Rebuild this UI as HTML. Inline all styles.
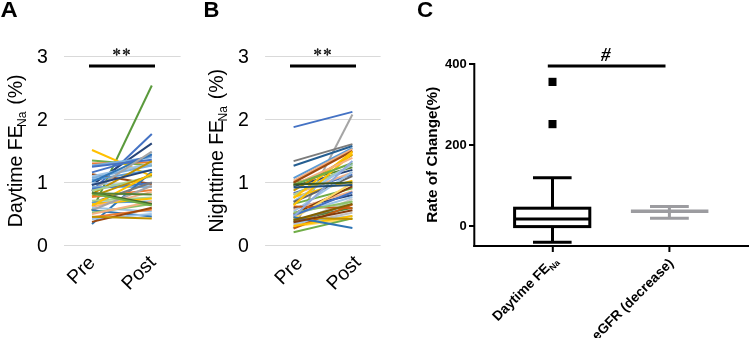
<!DOCTYPE html>
<html><head><meta charset="utf-8"><style>
html,body{margin:0;padding:0;background:#fff;}
body{width:749px;height:338px;overflow:hidden;}
svg{display:block;font-family:"Liberation Sans",sans-serif;}
text{filter:grayscale(1);}
</style></head><body>
<svg width="749" height="338" viewBox="0 0 749 338">
<rect width="749" height="338" fill="#fff"/>
<text transform="translate(0.4,16.7) scale(1.06,1)" font-size="22.5" font-weight="bold">A</text>
<text x="203.6" y="16.8" font-size="22" font-weight="bold">B</text>
<text x="416.9" y="17.0" font-size="22.4" font-weight="bold">C</text>
<line x1="64.0" y1="245.5" x2="180.6" y2="245.5" stroke="#d9d9d9" stroke-width="1"/>
<text x="47.8" y="251.8" font-size="19.5" text-anchor="end">0</text>
<line x1="64.0" y1="182.5" x2="180.6" y2="182.5" stroke="#d9d9d9" stroke-width="1"/>
<text x="47.8" y="188.8" font-size="19.5" text-anchor="end">1</text>
<line x1="64.0" y1="119.5" x2="180.6" y2="119.5" stroke="#d9d9d9" stroke-width="1"/>
<text x="47.8" y="125.8" font-size="19.5" text-anchor="end">2</text>
<line x1="64.0" y1="56.5" x2="180.6" y2="56.5" stroke="#d9d9d9" stroke-width="1"/>
<text x="47.8" y="62.8" font-size="19.5" text-anchor="end">3</text>
<g stroke-width="2" stroke-linecap="butt"><line x1="92" y1="210.8" x2="151.8" y2="85.5" stroke="#5A9A3C"/>
<line x1="92" y1="191.0" x2="151.8" y2="134.0" stroke="#4472C4"/>
<line x1="92" y1="185.0" x2="151.8" y2="143.4" stroke="#264478"/>
<line x1="92" y1="150.0" x2="151.8" y2="176.2" stroke="#FFC000"/>
<line x1="92" y1="160.4" x2="151.8" y2="165.5" stroke="#70AD47"/>
<line x1="92" y1="163.6" x2="151.8" y2="162.3" stroke="#ED7D31"/>
<line x1="92" y1="165.5" x2="151.8" y2="157.3" stroke="#7CAFDD"/>
<line x1="92" y1="166.8" x2="151.8" y2="159.8" stroke="#4472C4"/>
<line x1="92" y1="172.4" x2="151.8" y2="155.4" stroke="#4472C4"/>
<line x1="92" y1="174.3" x2="151.8" y2="184.1" stroke="#9E480E"/>
<line x1="92" y1="176.2" x2="151.8" y2="163.6" stroke="#9DC3E6"/>
<line x1="92" y1="178.1" x2="151.8" y2="165.5" stroke="#7CAFDD"/>
<line x1="92" y1="180.0" x2="151.8" y2="169.9" stroke="#5B9BD5"/>
<line x1="92" y1="181.9" x2="151.8" y2="154.2" stroke="#2E75B6"/>
<line x1="92" y1="183.1" x2="151.8" y2="186.3" stroke="#9DC3E6"/>
<line x1="92" y1="190.7" x2="151.8" y2="151.6" stroke="#A5A5A5"/>
<line x1="92" y1="193.8" x2="151.8" y2="161.1" stroke="#BF9000"/>
<line x1="92" y1="185.0" x2="151.8" y2="169.9" stroke="#264478"/>
<line x1="92" y1="186.9" x2="151.8" y2="186.9" stroke="#7CAFDD"/>
<line x1="92" y1="188.8" x2="151.8" y2="183.1" stroke="#4472C4"/>
<line x1="92" y1="190.7" x2="151.8" y2="176.2" stroke="#A9D18E"/>
<line x1="92" y1="196.4" x2="151.8" y2="174.9" stroke="#BF9000"/>
<line x1="92" y1="224.1" x2="151.8" y2="171.8" stroke="#2E75B6"/>
<line x1="92" y1="197.0" x2="151.8" y2="190.1" stroke="#ED7D31"/>
<line x1="92" y1="203.0" x2="151.8" y2="182.5" stroke="#7B7B7B"/>
<line x1="92" y1="200.8" x2="151.8" y2="197.6" stroke="#A9D18E"/>
<line x1="92" y1="202.7" x2="151.8" y2="201.4" stroke="#5B9BD5"/>
<line x1="92" y1="204.2" x2="151.8" y2="198.6" stroke="#FFC000"/>
<line x1="92" y1="205.8" x2="151.8" y2="173.7" stroke="#FFC000"/>
<line x1="92" y1="207.1" x2="151.8" y2="191.9" stroke="#F4B183"/>
<line x1="92" y1="207.7" x2="151.8" y2="211.5" stroke="#9DC3E6"/>
<line x1="92" y1="210.2" x2="151.8" y2="185.7" stroke="#A5A5A5"/>
<line x1="92" y1="210.2" x2="151.8" y2="216.5" stroke="#2E75B6"/>
<line x1="92" y1="212.7" x2="151.8" y2="203.9" stroke="#8CC168"/>
<line x1="92" y1="214.0" x2="151.8" y2="201.4" stroke="#F4B183"/>
<line x1="92" y1="217.2" x2="151.8" y2="209.6" stroke="#ED7D31"/>
<line x1="92" y1="219.0" x2="151.8" y2="214.0" stroke="#9DC3E6"/>
<line x1="92" y1="192.6" x2="151.8" y2="203.9" stroke="#43682B"/>
<line x1="92" y1="193.5" x2="151.8" y2="205.5" stroke="#70AD47"/>
<line x1="92" y1="193.2" x2="151.8" y2="194.5" stroke="#548235"/>
<line x1="92" y1="221.9" x2="151.8" y2="207.7" stroke="#9E480E"/>
<line x1="92" y1="216.8" x2="151.8" y2="218.4" stroke="#BF9000"/></g>
<rect x="89" y="64.5" width="66" height="3" fill="#000"/>
<g stroke="#1a1a1a"><line x1="116.65" y1="51.95" x2="116.65" y2="48.62" stroke-width="0.8"/><line x1="116.65" y1="49.92" x2="116.65" y2="48.99" stroke-width="1.6" stroke-linecap="round"/><line x1="116.65" y1="51.95" x2="116.65" y2="55.28" stroke-width="0.8"/><line x1="116.65" y1="53.98" x2="116.65" y2="54.91" stroke-width="1.6" stroke-linecap="round"/><line x1="116.65" y1="51.95" x2="119.78" y2="50.36" stroke-width="0.8"/><line x1="118.56" y1="50.98" x2="119.43" y2="50.53" stroke-width="1.6" stroke-linecap="round"/><line x1="116.65" y1="51.95" x2="119.78" y2="53.54" stroke-width="0.8"/><line x1="118.56" y1="52.92" x2="119.43" y2="53.37" stroke-width="1.6" stroke-linecap="round"/><line x1="116.65" y1="51.95" x2="113.52" y2="50.36" stroke-width="0.8"/><line x1="114.74" y1="50.98" x2="113.87" y2="50.53" stroke-width="1.6" stroke-linecap="round"/><line x1="116.65" y1="51.95" x2="113.52" y2="53.54" stroke-width="0.8"/><line x1="114.74" y1="52.92" x2="113.87" y2="53.37" stroke-width="1.6" stroke-linecap="round"/></g>
<g stroke="#1a1a1a"><line x1="126.35" y1="51.95" x2="126.35" y2="48.62" stroke-width="0.8"/><line x1="126.35" y1="49.92" x2="126.35" y2="48.99" stroke-width="1.6" stroke-linecap="round"/><line x1="126.35" y1="51.95" x2="126.35" y2="55.28" stroke-width="0.8"/><line x1="126.35" y1="53.98" x2="126.35" y2="54.91" stroke-width="1.6" stroke-linecap="round"/><line x1="126.35" y1="51.95" x2="129.48" y2="50.36" stroke-width="0.8"/><line x1="128.26" y1="50.98" x2="129.13" y2="50.53" stroke-width="1.6" stroke-linecap="round"/><line x1="126.35" y1="51.95" x2="129.48" y2="53.54" stroke-width="0.8"/><line x1="128.26" y1="52.92" x2="129.13" y2="53.37" stroke-width="1.6" stroke-linecap="round"/><line x1="126.35" y1="51.95" x2="123.22" y2="50.36" stroke-width="0.8"/><line x1="124.44" y1="50.98" x2="123.57" y2="50.53" stroke-width="1.6" stroke-linecap="round"/><line x1="126.35" y1="51.95" x2="123.22" y2="53.54" stroke-width="0.8"/><line x1="124.44" y1="52.92" x2="123.57" y2="53.37" stroke-width="1.6" stroke-linecap="round"/></g>
<text transform="translate(21.6,150.8) rotate(-90)" font-size="19.5" text-anchor="middle">Daytime FE<tspan font-size="12" dx="-1.6" dy="4.4">Na</tspan><tspan dx="1.4" dy="-4.4"> (%)</tspan></text>
<text transform="translate(96.3,263.8) rotate(-45)" font-size="19.5" text-anchor="end">Pre</text>
<text transform="translate(156.8,263.5) rotate(-45)" font-size="19.5" text-anchor="end">Post</text>
<line x1="265.1" y1="245.5" x2="380.6" y2="245.5" stroke="#d9d9d9" stroke-width="1"/>
<text x="248.8" y="251.8" font-size="19.5" text-anchor="end">0</text>
<line x1="265.1" y1="182.5" x2="380.6" y2="182.5" stroke="#d9d9d9" stroke-width="1"/>
<text x="248.8" y="188.8" font-size="19.5" text-anchor="end">1</text>
<line x1="265.1" y1="119.5" x2="380.6" y2="119.5" stroke="#d9d9d9" stroke-width="1"/>
<text x="248.8" y="125.8" font-size="19.5" text-anchor="end">2</text>
<line x1="265.1" y1="56.5" x2="380.6" y2="56.5" stroke="#d9d9d9" stroke-width="1"/>
<text x="248.8" y="62.8" font-size="19.5" text-anchor="end">3</text>
<g stroke-width="2" stroke-linecap="butt"><line x1="293.6" y1="228.5" x2="352.4" y2="114.5" stroke="#A5A5A5"/>
<line x1="293.6" y1="127.1" x2="352.4" y2="111.9" stroke="#4472C4"/>
<line x1="293.6" y1="161.1" x2="352.4" y2="144.1" stroke="#7B7B7B"/>
<line x1="293.6" y1="165.8" x2="352.4" y2="146.0" stroke="#255E91"/>
<line x1="293.6" y1="183.1" x2="352.4" y2="167.4" stroke="#548235"/>
<line x1="293.6" y1="186.3" x2="352.4" y2="169.9" stroke="#264478"/>
<line x1="293.6" y1="190.7" x2="352.4" y2="154.8" stroke="#BF9000"/>
<line x1="293.6" y1="193.2" x2="352.4" y2="174.6" stroke="#4472C4"/>
<line x1="293.6" y1="194.5" x2="352.4" y2="172.4" stroke="#F4B183"/>
<line x1="293.6" y1="195.1" x2="352.4" y2="164.9" stroke="#A9D18E"/>
<line x1="293.6" y1="197.0" x2="352.4" y2="180.6" stroke="#FFC000"/>
<line x1="293.6" y1="201.4" x2="352.4" y2="163.6" stroke="#9DC3E6"/>
<line x1="293.6" y1="202.0" x2="352.4" y2="176.2" stroke="#636363"/>
<line x1="293.6" y1="203.9" x2="352.4" y2="188.2" stroke="#70AD47"/>
<line x1="293.6" y1="208.3" x2="352.4" y2="195.1" stroke="#264478"/>
<line x1="293.6" y1="209.6" x2="352.4" y2="191.3" stroke="#F4B183"/>
<line x1="293.6" y1="211.5" x2="352.4" y2="171.8" stroke="#9DC3E6"/>
<line x1="293.6" y1="214.0" x2="352.4" y2="186.3" stroke="#843C0C"/>
<line x1="293.6" y1="214.9" x2="352.4" y2="197.0" stroke="#9DC3E6"/>
<line x1="293.6" y1="218.4" x2="352.4" y2="182.8" stroke="#FFD966"/>
<line x1="293.6" y1="220.3" x2="352.4" y2="207.7" stroke="#548235"/>
<line x1="293.6" y1="222.2" x2="352.4" y2="201.4" stroke="#A9D18E"/>
<line x1="293.6" y1="224.1" x2="352.4" y2="198.9" stroke="#C9C9C9"/>
<line x1="293.6" y1="221.6" x2="352.4" y2="203.9" stroke="#7B7B7B"/>
<line x1="293.6" y1="224.7" x2="352.4" y2="212.7" stroke="#BFBFBF"/>
<line x1="293.6" y1="222.8" x2="352.4" y2="215.9" stroke="#9DC3E6"/>
<line x1="293.6" y1="226.6" x2="352.4" y2="218.4" stroke="#FFD966"/>
<line x1="293.6" y1="206.4" x2="352.4" y2="208.3" stroke="#C55A11"/>
<line x1="293.6" y1="212.7" x2="352.4" y2="201.4" stroke="#8CC168"/>
<line x1="293.6" y1="178.1" x2="352.4" y2="147.8" stroke="#5B9BD5"/>
<line x1="293.6" y1="180.6" x2="352.4" y2="149.1" stroke="#F4B183"/>
<line x1="293.6" y1="182.5" x2="352.4" y2="151.0" stroke="#9E480E"/>
<line x1="293.6" y1="198.2" x2="352.4" y2="151.6" stroke="#FFC000"/>
<line x1="293.6" y1="205.2" x2="352.4" y2="153.5" stroke="#FFC000"/>
<line x1="293.6" y1="185.0" x2="352.4" y2="157.9" stroke="#F4B183"/>
<line x1="293.6" y1="185.0" x2="352.4" y2="163.0" stroke="#70AD47"/>
<line x1="293.6" y1="215.5" x2="352.4" y2="192.3" stroke="#4472C4"/>
<line x1="293.6" y1="216.8" x2="352.4" y2="161.1" stroke="#8FAADC"/>
<line x1="293.6" y1="228.5" x2="352.4" y2="204.6" stroke="#C55A11"/>
<line x1="293.6" y1="232.3" x2="352.4" y2="218.4" stroke="#70AD47"/>
<line x1="293.6" y1="226.0" x2="352.4" y2="215.9" stroke="#FFC000"/>
<line x1="293.6" y1="217.8" x2="352.4" y2="219.0" stroke="#BF9000"/>
<line x1="293.6" y1="217.2" x2="352.4" y2="227.9" stroke="#2E75B6"/>
<line x1="293.6" y1="220.3" x2="352.4" y2="203.9" stroke="#806000"/>
<line x1="293.6" y1="222.2" x2="352.4" y2="210.2" stroke="#843C0C"/>
<line x1="293.6" y1="184.4" x2="352.4" y2="182.5" stroke="#375623"/>
<line x1="293.6" y1="187.5" x2="352.4" y2="185.0" stroke="#1F4E79"/></g>
<rect x="290" y="64.5" width="66" height="3" fill="#000"/>
<g stroke="#1a1a1a"><line x1="317.65" y1="51.95" x2="317.65" y2="48.62" stroke-width="0.8"/><line x1="317.65" y1="49.92" x2="317.65" y2="48.99" stroke-width="1.6" stroke-linecap="round"/><line x1="317.65" y1="51.95" x2="317.65" y2="55.28" stroke-width="0.8"/><line x1="317.65" y1="53.98" x2="317.65" y2="54.91" stroke-width="1.6" stroke-linecap="round"/><line x1="317.65" y1="51.95" x2="320.78" y2="50.36" stroke-width="0.8"/><line x1="319.56" y1="50.98" x2="320.43" y2="50.53" stroke-width="1.6" stroke-linecap="round"/><line x1="317.65" y1="51.95" x2="320.78" y2="53.54" stroke-width="0.8"/><line x1="319.56" y1="52.92" x2="320.43" y2="53.37" stroke-width="1.6" stroke-linecap="round"/><line x1="317.65" y1="51.95" x2="314.52" y2="50.36" stroke-width="0.8"/><line x1="315.74" y1="50.98" x2="314.87" y2="50.53" stroke-width="1.6" stroke-linecap="round"/><line x1="317.65" y1="51.95" x2="314.52" y2="53.54" stroke-width="0.8"/><line x1="315.74" y1="52.92" x2="314.87" y2="53.37" stroke-width="1.6" stroke-linecap="round"/></g>
<g stroke="#1a1a1a"><line x1="327.35" y1="51.95" x2="327.35" y2="48.62" stroke-width="0.8"/><line x1="327.35" y1="49.92" x2="327.35" y2="48.99" stroke-width="1.6" stroke-linecap="round"/><line x1="327.35" y1="51.95" x2="327.35" y2="55.28" stroke-width="0.8"/><line x1="327.35" y1="53.98" x2="327.35" y2="54.91" stroke-width="1.6" stroke-linecap="round"/><line x1="327.35" y1="51.95" x2="330.48" y2="50.36" stroke-width="0.8"/><line x1="329.26" y1="50.98" x2="330.13" y2="50.53" stroke-width="1.6" stroke-linecap="round"/><line x1="327.35" y1="51.95" x2="330.48" y2="53.54" stroke-width="0.8"/><line x1="329.26" y1="52.92" x2="330.13" y2="53.37" stroke-width="1.6" stroke-linecap="round"/><line x1="327.35" y1="51.95" x2="324.22" y2="50.36" stroke-width="0.8"/><line x1="325.44" y1="50.98" x2="324.57" y2="50.53" stroke-width="1.6" stroke-linecap="round"/><line x1="327.35" y1="51.95" x2="324.22" y2="53.54" stroke-width="0.8"/><line x1="325.44" y1="52.92" x2="324.57" y2="53.37" stroke-width="1.6" stroke-linecap="round"/></g>
<text transform="translate(222.6,150.8) rotate(-90)" font-size="19.5" text-anchor="middle">Nighttime FE<tspan font-size="12" dx="-1.6" dy="4.4">Na</tspan><tspan dx="1.4" dy="-4.4"> (%)</tspan></text>
<text transform="translate(303.6,264.2) rotate(-45)" font-size="19.5" text-anchor="end">Pre</text>
<text transform="translate(361.8,263.5) rotate(-45)" font-size="19.5" text-anchor="end">Post</text>
<g fill="#000" font-weight="bold" font-size="13">
<rect x="469" y="225.0" width="5" height="2"/>
<text x="466.8" y="229.8" text-anchor="end">0</text>
<rect x="469" y="144.0" width="5" height="2"/>
<text x="466.8" y="148.8" text-anchor="end">200</text>
<rect x="469" y="63.0" width="5" height="2"/>
<text x="466.8" y="67.8" text-anchor="end">400</text>
</g>
<rect x="473.3" y="63" width="2" height="184" fill="#000"/>
<rect x="473.3" y="245" width="276" height="2" fill="#000"/>
<rect x="551.8" y="246" width="2" height="6" fill="#000"/>
<rect x="668.4" y="246" width="2" height="6" fill="#000"/>
<g stroke="#000" stroke-width="3" fill="none">
<rect x="514.6" y="208.2" width="75.2" height="18.4"/>
<line x1="514.6" y1="219" x2="589.8" y2="219"/>
<line x1="552.5" y1="177.8" x2="552.5" y2="208.2"/>
<line x1="552.5" y1="226.6" x2="552.5" y2="242.2"/>
<line x1="533" y1="177.8" x2="571.6" y2="177.8"/>
<line x1="533" y1="242.2" x2="571.6" y2="242.2"/>
</g>
<rect x="548.5" y="77.8" width="8" height="8.2" fill="#000"/>
<rect x="548.5" y="120" width="8" height="8.2" fill="#000"/>
<g stroke="#9c9ca0" stroke-width="3">
<line x1="630.9" y1="211.3" x2="708.4" y2="211.3" stroke-width="3.4"/>
<line x1="650" y1="206.4" x2="688.8" y2="206.4"/>
<line x1="650" y1="218.3" x2="688.8" y2="218.3"/>
<line x1="669.4" y1="206.4" x2="669.4" y2="218.3"/>
</g>
<rect x="547.8" y="64.5" width="117.7" height="3" fill="#000"/>
<text x="601" y="61" font-size="19" font-family="Liberation Serif" font-style="italic" font-weight="bold">#</text>
<text transform="translate(436.6,154.7) rotate(-90)" font-size="15.3" font-weight="bold" text-anchor="middle">Rate of Change(%)</text>
<text transform="translate(558.3,261.3) rotate(-45)" font-size="13.7" font-weight="bold" text-anchor="end">Daytime FE<tspan font-size="8.6" dy="3">Na</tspan></text>
<text transform="translate(674.2,264) rotate(-45)" font-size="13.7" font-weight="bold" text-anchor="end">eGFR (decrease)</text>
</svg>
</body></html>
